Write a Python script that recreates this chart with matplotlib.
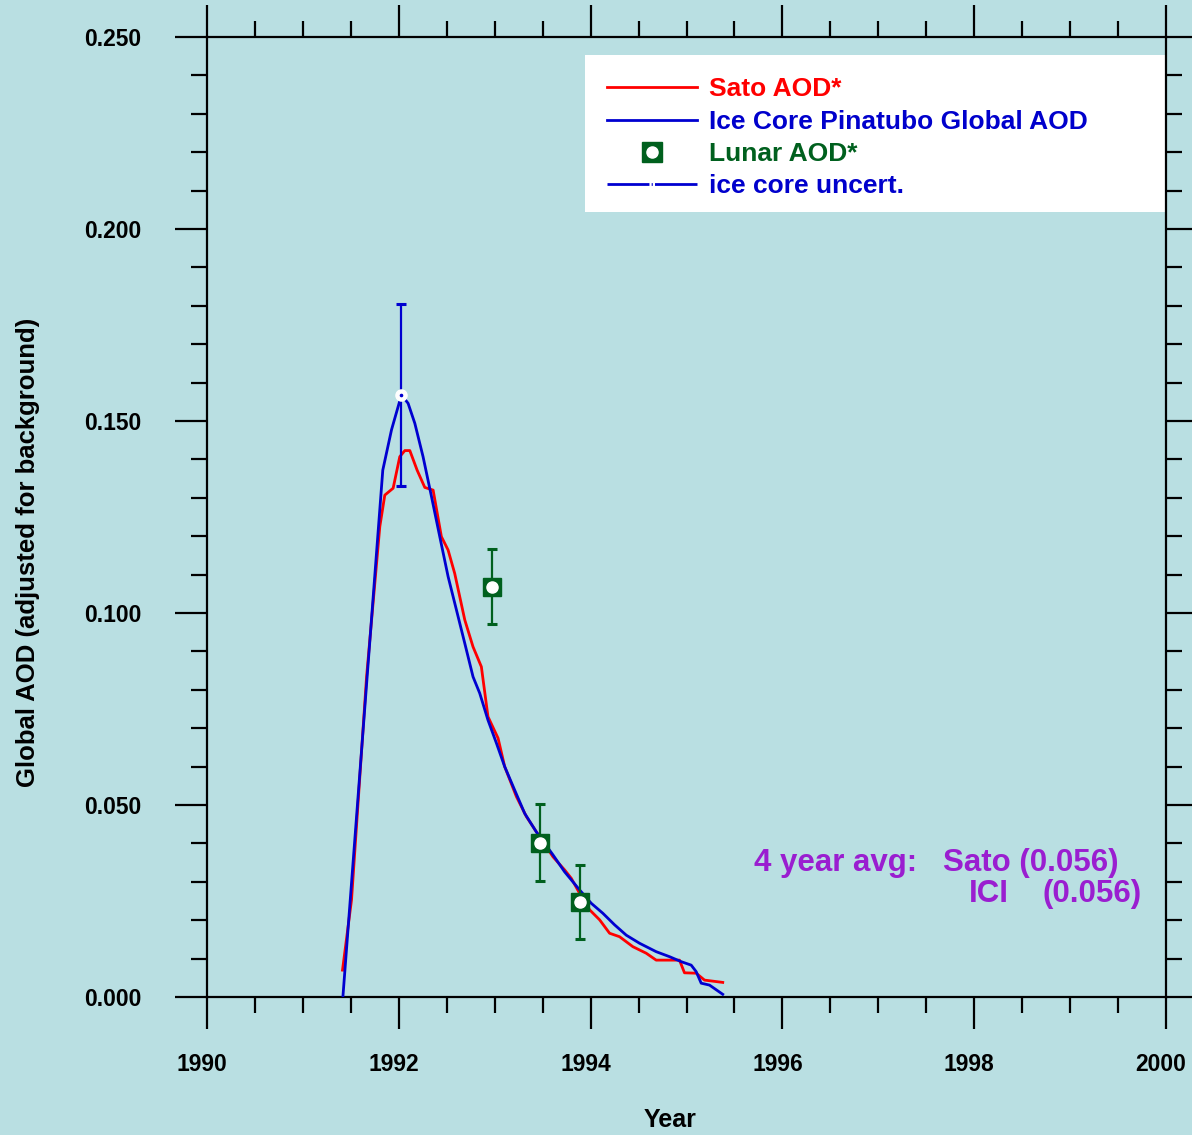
import matplotlib
matplotlib.use("Agg")
import matplotlib.pyplot as plt
from matplotlib.lines import Line2D
from matplotlib.patches import Rectangle
from matplotlib.legend_handler import HandlerTuple
import matplotlib.transforms as mtransforms
import numpy as np

plt.rcParams['font.family'] = ['Liberation Sans', 'DejaVu Sans']
plt.rcParams['font.weight'] = 'bold'
plt.rcParams['lines.scale_dashes'] = False

# ---------------- data ----------------
sato_year = [1991.413, 1991.507, 1991.664, 1991.802, 1991.854, 1991.941, 1992.010,
             1992.063, 1992.115, 1992.191, 1992.271, 1992.358, 1992.444, 1992.514,
             1992.583, 1992.688, 1992.774, 1992.861, 1992.930, 1993.035, 1993.104,
             1993.226, 1993.330, 1993.469, 1993.608, 1993.729, 1993.799, 1993.885,
             1993.990, 1994.094, 1994.198, 1994.302, 1994.441, 1994.580, 1994.684,
             1994.927, 1994.979, 1995.101, 1995.188, 1995.378]
sato_aod = [0.0070, 0.0253, 0.0834, 0.1225, 0.1307, 0.1325, 0.1407,
            0.1423, 0.1423, 0.1372, 0.1327, 0.1320, 0.1199, 0.1164,
            0.1103, 0.0982, 0.0912, 0.0860, 0.0730, 0.0674, 0.0600,
            0.0522, 0.0470, 0.0417, 0.0365, 0.0331, 0.0309, 0.0270,
            0.0227, 0.0201, 0.0166, 0.0157, 0.0131, 0.0114, 0.0096,
            0.0096, 0.0063, 0.0062, 0.0044, 0.0038]

ice_year = [1991.417, 1991.833, 1991.924, 1992.028, 1992.097, 1992.167, 1992.253,
            1992.341, 1992.427, 1992.514, 1992.601, 1992.688, 1992.774, 1992.844,
            1992.930, 1993.018, 1993.104, 1993.208, 1993.313, 1993.434, 1993.608,
            1993.729, 1993.885, 1994.007, 1994.128, 1994.250, 1994.372, 1994.510,
            1994.684, 1994.823, 1994.945, 1995.049, 1995.101, 1995.153, 1995.240,
            1995.378]
ice_aod = [0.0000, 0.1372, 0.1477, 0.1568, 0.1546, 0.1494, 0.1407,
           0.1303, 0.1199, 0.1095, 0.1008, 0.0921, 0.0834, 0.0791,
           0.0721, 0.0661, 0.0600, 0.0539, 0.0478, 0.0430, 0.0370,
           0.0326, 0.0279, 0.0244, 0.0218, 0.0188, 0.0161, 0.0140,
           0.0118, 0.0105, 0.0092, 0.0083, 0.0066, 0.0036, 0.0031,
           0.0007]

ice_unc_year = [1992.028]
ice_unc_aod = [0.1568]
ice_unc_err = [0.0236]

lunar_year = [1992.97, 1993.47, 1993.885]
lunar_aod = [0.1069, 0.0402, 0.0248]
lunar_err = [0.0098, 0.0100, 0.0097]

x_ticks = [1990, 1992, 1994, 1996, 1998, 2000]
y_ticks = [0.0, 0.05, 0.10, 0.15, 0.20, 0.25]

# ---------------- style ----------------
BG = '#B9DFE2'
RED = '#FF0000'
BLUE = '#0000D0'
GREEN = '#00601E'
PURPLE = '#9A1ED0'

W, H = 1192, 1135
fig = plt.figure(figsize=(W / 100, H / 100), dpi=100, facecolor=BG)
ax = fig.add_axes([207 / W, 1 - 997 / H, (1166 - 207) / W, (997 - 37) / H])
ax.set_facecolor(BG)

ax.plot(sato_year, sato_aod, color=RED, lw=2.0, zorder=3)
ax.plot(ice_year, ice_aod, color=BLUE, lw=2.0, zorder=4)

# ice core uncertainty
ax.errorbar(ice_unc_year, ice_unc_aod, yerr=ice_unc_err, fmt='none', ecolor=BLUE,
            elinewidth=1.6, capsize=3.6, capthick=2.2, zorder=5)
ax.plot(ice_unc_year, ice_unc_aod, 'o', ms=8, mfc='white', mec='white', zorder=6)
ax.plot(ice_unc_year, ice_unc_aod, 'o', ms=1.6, mfc=BLUE, mec=BLUE, zorder=7)

# lunar
ax.errorbar(lunar_year, lunar_aod, yerr=lunar_err, fmt='none', ecolor=GREEN,
            elinewidth=1.6, capsize=3.6, capthick=2.2, zorder=5)
ax.plot(lunar_year, lunar_aod, 's', ms=13, mfc=GREEN, mec=GREEN, mew=1, zorder=6)
ax.plot(lunar_year, lunar_aod, 'o', ms=8, mfc='white', mec='white', zorder=7)

ax.set_xlim(1990, 2000)
ax.set_ylim(0, 0.25)
ax.set_xticks(x_ticks)
ax.set_xticks(np.arange(1990, 2000.01, 0.5), minor=True)
ax.set_yticks(y_ticks)
ax.set_yticks(np.arange(0, 0.2501, 0.01), minor=True)
ax.set_xticklabels([str(v) for v in x_ticks])
ax.set_yticklabels(['%.3f' % v for v in y_ticks])

for s in ax.spines.values():
    s.set_linewidth(1.6)
    s.set_color('black')
ax.tick_params(which='both', direction='out', top=True, right=True, width=1.6,
               color='black')
ax.tick_params(which='major', length=23)
ax.tick_params(which='minor', length=11.5)
ax.tick_params(axis='x', which='major', pad=17, labelsize=16.5)
ax.tick_params(axis='y', which='major', pad=24, labelsize=16.5)
for lab in ax.get_xticklabels():
    lab.set_fontweight('bold')
    lab.set_transform(lab.get_transform() + mtransforms.ScaledTranslation(-5 / 100, 0, fig.dpi_scale_trans))
for lab in ax.get_yticklabels():
    lab.set_fontweight('bold')

fig.text(670 / W, 1 - 1120 / H, 'Year', fontsize=18, fontweight='bold', ha='center', va='center')
fig.text(28 / W, 1 - 552 / H, 'Global AOD (adjusted for background)', fontsize=18.5,
         fontweight='bold', rotation=90, ha='center', va='center')

# legend box (white panel inside the axes)
ax.add_patch(Rectangle((585 / W, 1 - 212 / H), (1165 - 585) / W, (212 - 55) / H,
                       transform=fig.transFigure, facecolor='white',
                       edgecolor='none', zorder=2, clip_on=False))

h_sato = Line2D([], [], color=RED, lw=2.0)
h_ice = Line2D([], [], color=BLUE, lw=2.0)
h_lun = (Line2D([], [], ls='none', marker='s', ms=14, mfc=GREEN, mec=GREEN),
         Line2D([], [], ls='none', marker='o', ms=8, mfc='white', mec='white'))
h_unc = Line2D([], [], color=BLUE, lw=2.0, dashes=[30.2, 1.6, 0.8, 1.6, 40])
leg = ax.legend([h_sato, h_ice, h_lun, h_unc],
                ['Sato AOD*', 'Ice Core Pinatubo Global AOD', 'Lunar AOD*', 'ice core uncert.'],
                handler_map={tuple: HandlerTuple(ndivide=1)},
                loc='upper left', bbox_to_anchor=(607 / W, 1 - 77.5 / H),
                bbox_transform=fig.transFigure, frameon=False, borderpad=0,
                borderaxespad=0, handlelength=64.8 / 19,
                handletextpad=8.6 / 19, labelspacing=0.315, numpoints=1,
                prop={'weight': 'bold', 'size': 19})
leg.set_zorder(10)
for t, c in zip(leg.get_texts(), [RED, '#0000CC', GREEN, '#0000CC']):
    t.set_color(c)

# annotation
def ptext(x, y, s):
    fig.text(x / W, 1 - y / H, s, fontsize=22.5, fontweight='bold', color=PURPLE,
             ha='left', va='baseline')

ptext(754, 871, '4 year avg:')
ptext(943, 871, 'Sato (0.056)')
ptext(969, 902, 'ICI')
ptext(1043, 902, '(0.056)')

fig.savefig('out.png', dpi=100, facecolor=BG)
